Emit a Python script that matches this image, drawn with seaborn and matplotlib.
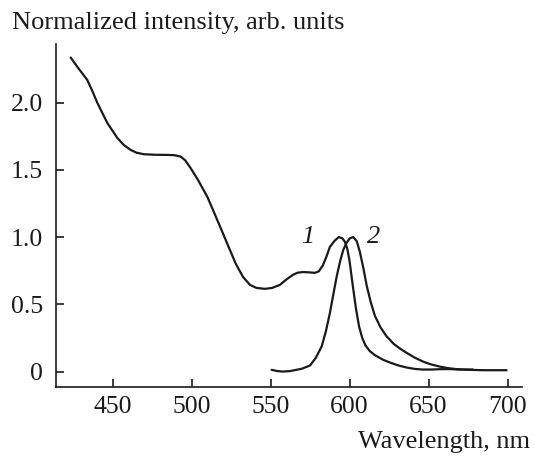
import matplotlib
matplotlib.use("Agg")
import matplotlib.pyplot as plt
import seaborn as sns
import pandas as pd

# Curve 1: absorption
wl1 = [423.4, 428, 433.9, 437, 440.3, 446.6, 452.9, 457, 461.4, 465, 469.8, 477, 484.6, 489, 493,
       496, 499.4, 504, 509.9, 513.5, 519, 524.2, 528, 532.5, 536.9, 541, 546.4, 551, 555.9,
       560, 564.1, 567, 570.4, 574, 578, 580.5, 583.1, 585.5, 587.5, 590.7, 593.2, 595.5,
       597, 598.5, 600, 602, 604, 606, 608, 610, 612.8, 616, 621.3, 626, 631, 636, 641, 646,
       652, 658, 664, 670, 678]
int1 = [2.335, 2.26, 2.169, 2.09, 1.998, 1.849, 1.738, 1.685, 1.648, 1.628, 1.616, 1.612, 1.611, 1.609, 1.599,
        1.57, 1.512, 1.425, 1.30, 1.202, 1.05, 0.905, 0.80, 0.704, 0.645, 0.622, 0.615, 0.622, 0.645,
        0.685, 0.719, 0.735, 0.740, 0.738, 0.734, 0.745, 0.79, 0.86, 0.927, 0.975, 1.0, 0.99,
        0.965, 0.915, 0.82, 0.64, 0.47, 0.335, 0.25, 0.195, 0.152, 0.122, 0.087, 0.065, 0.045, 0.03, 0.02, 0.015,
        0.015, 0.018, 0.018, 0.015, 0.015]

# Curve 2: emission
wl2 = [550.6, 554, 557.8, 562, 566, 570, 574.9, 578.5, 582.3, 585, 587.5, 589.8, 591.8, 594,
       596, 598, 600, 602.3, 604.5, 606.5, 608.7, 610.8, 613.4, 616, 619.5, 623.4, 628, 632,
       636, 641, 646.5, 651, 657, 662, 667.6, 675, 685, 699.4]
int2 = [0.013, 0.004, 0.0, 0.003, 0.012, 0.022, 0.045, 0.10, 0.186, 0.30, 0.434, 0.58, 0.706, 0.82,
        0.905, 0.955, 0.99, 1.0, 0.97, 0.89, 0.77, 0.64, 0.515, 0.415, 0.33, 0.262, 0.205, 0.17,
        0.14, 0.105, 0.074, 0.055, 0.037, 0.026, 0.018, 0.013, 0.01, 0.01]

curve_labels = ["1", "2"]
label_pos_wl = [573.6, 615.0]
label_pos_int = [1.0, 1.0]

xticks = [450, 500, 550, 600, 650, 700]
yticks = [0, 0.5, 1.0, 1.5, 2.0]
ytick_labels = ["0", "0.5", "1.0", "1.5", "2.0"]

sns.set_style("ticks")
plt.rcParams['font.family'] = ['Liberation Serif', 'DejaVu Serif']

fig = plt.figure(figsize=(5.35, 4.58), dpi=100)
ax = fig.add_axes([0.104, 0.156, 0.871, 0.748])

df1 = pd.DataFrame({"wl": wl1, "val": int1})
df2 = pd.DataFrame({"wl": wl2, "val": int2})
sns.lineplot(data=df1, x="wl", y="val", ax=ax, color="#1a1a1a", linewidth=1.6, sort=False)
sns.lineplot(data=df2, x="wl", y="val", ax=ax, color="#1a1a1a", linewidth=1.6, sort=False)

for lab, x, y in zip(curve_labels, label_pos_wl, label_pos_int):
    ax.text(x, y, lab, fontsize=19, style="italic", ha="center", va="center", color="#1a1a1a")

ax.set_xlim(413.9, 708.9)
ax.set_ylim(-0.1115, 2.436)
ax.set_xticks(xticks)
ax.set_yticks(yticks)
ax.set_yticklabels(ytick_labels)
ax.tick_params(direction="in", length=6, width=1.2, labelsize=18.5, colors="#1a1a1a")
ax.tick_params(axis="x", pad=7)
ax.tick_params(axis="y", pad=9)
for s in ["top", "right"]:
    ax.spines[s].set_visible(False)
for s in ["left", "bottom"]:
    ax.spines[s].set_linewidth(1.2)
    ax.spines[s].set_color("#1a1a1a")

ax.set_xlabel("")
ax.set_ylabel("")
fig.text(12.5 / 535, 1 - 29 / 458, "Normalized intensity, arb. units", fontsize=19,
         ha="left", va="baseline", color="#1a1a1a")
fig.text(530 / 535, 1 - 442 / 458, "Wavelength, nm", fontsize=19,
         ha="right", va="center", color="#1a1a1a")

fig.savefig("out.png", dpi=100)
